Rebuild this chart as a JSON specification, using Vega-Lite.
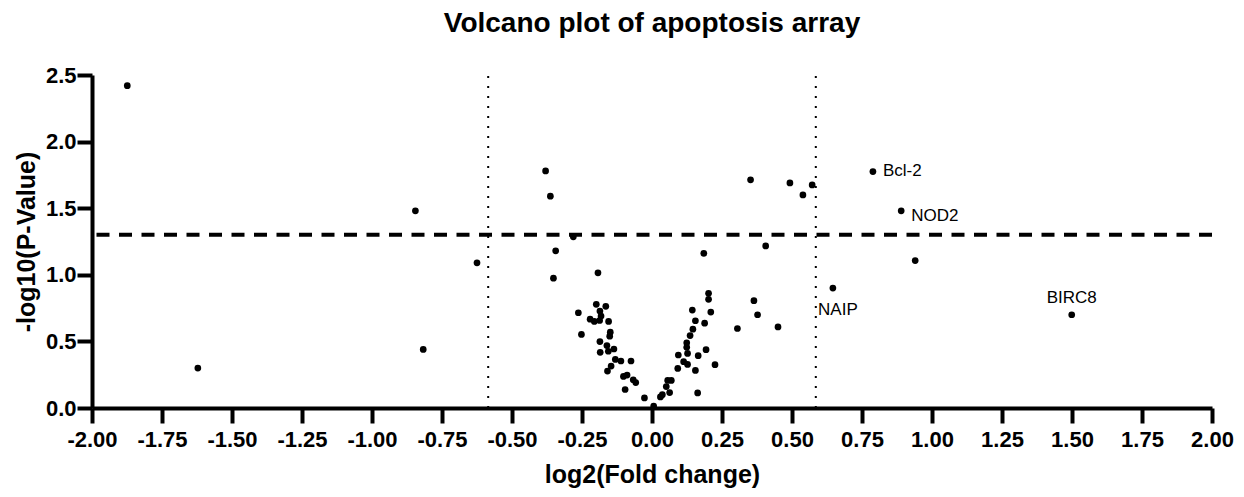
{
  "$schema": "https://vega.github.io/schema/vega-lite/v6.json",
  "width": 1120,
  "height": 333,
  "autosize": {"type": "none"},
  "padding": {"left": 92, "top": 75, "right": 32, "bottom": 89},
  "background": "white",
  "title": {
    "text": "Volcano plot of apoptosis array",
    "font": "Liberation Sans",
    "fontSize": 28,
    "fontWeight": "bold",
    "color": "black",
    "anchor": "middle",
    "offset": 26
  },
  "config": {
    "view": {"stroke": null},
    "axis": {
      "grid": false,
      "domainColor": "black",
      "domainWidth": 4,
      "tickColor": "black",
      "tickWidth": 4,
      "tickSize": 15,
      "labelFont": "Liberation Sans",
      "labelFontSize": 22,
      "labelFontWeight": "bold",
      "labelColor": "black",
      "labelOverlap": false,
      "labelFlush": false,
      "titleFont": "Liberation Sans",
      "titleFontSize": 25,
      "titleFontWeight": "bold",
      "titleColor": "black"
    }
  },
  "datasets": {
    "genes": [
      {"fc": -1.874, "p": 2.42},
      {"fc": -1.622, "p": 0.30},
      {"fc": -0.845, "p": 1.48},
      {"fc": -0.817, "p": 0.44},
      {"fc": -0.625, "p": 1.09},
      {"fc": -0.380, "p": 1.78},
      {"fc": -0.363, "p": 1.59},
      {"fc": -0.344, "p": 1.18},
      {"fc": -0.352, "p": 0.975},
      {"fc": -0.281, "p": 1.285},
      {"fc": -0.193, "p": 1.015},
      {"fc": -0.263, "p": 0.715},
      {"fc": -0.252, "p": 0.552},
      {"fc": -0.199, "p": 0.778},
      {"fc": -0.165, "p": 0.763},
      {"fc": -0.186, "p": 0.728},
      {"fc": -0.182, "p": 0.69},
      {"fc": -0.221, "p": 0.667},
      {"fc": -0.206, "p": 0.65},
      {"fc": -0.187, "p": 0.657},
      {"fc": -0.155, "p": 0.65},
      {"fc": -0.149, "p": 0.569},
      {"fc": -0.151, "p": 0.539},
      {"fc": -0.186, "p": 0.499},
      {"fc": -0.161, "p": 0.469},
      {"fc": -0.136, "p": 0.443},
      {"fc": -0.185, "p": 0.418},
      {"fc": -0.156, "p": 0.426},
      {"fc": -0.131, "p": 0.365},
      {"fc": -0.111, "p": 0.353},
      {"fc": -0.075, "p": 0.353},
      {"fc": -0.146, "p": 0.315},
      {"fc": -0.159, "p": 0.277},
      {"fc": -0.102, "p": 0.237},
      {"fc": -0.089, "p": 0.247},
      {"fc": -0.067, "p": 0.212},
      {"fc": -0.058, "p": 0.191},
      {"fc": -0.096, "p": 0.139},
      {"fc": -0.027, "p": 0.076},
      {"fc": 0.006, "p": 0.015},
      {"fc": 0.030, "p": 0.083},
      {"fc": 0.037, "p": 0.100},
      {"fc": 0.051, "p": 0.161},
      {"fc": 0.056, "p": 0.207},
      {"fc": 0.069, "p": 0.207},
      {"fc": 0.063, "p": 0.116},
      {"fc": 0.092, "p": 0.297},
      {"fc": 0.094, "p": 0.398},
      {"fc": 0.113, "p": 0.348},
      {"fc": 0.127, "p": 0.327},
      {"fc": 0.127, "p": 0.41},
      {"fc": 0.124, "p": 0.456},
      {"fc": 0.124, "p": 0.489},
      {"fc": 0.136, "p": 0.544},
      {"fc": 0.146, "p": 0.592},
      {"fc": 0.155, "p": 0.655},
      {"fc": 0.144, "p": 0.735},
      {"fc": 0.155, "p": 0.282},
      {"fc": 0.165, "p": 0.393},
      {"fc": 0.163, "p": 0.113},
      {"fc": 0.188, "p": 0.637},
      {"fc": 0.193, "p": 0.438},
      {"fc": 0.210, "p": 0.72},
      {"fc": 0.202, "p": 0.816},
      {"fc": 0.202, "p": 0.861},
      {"fc": 0.225, "p": 0.325},
      {"fc": 0.185, "p": 1.161},
      {"fc": 0.305, "p": 0.597},
      {"fc": 0.352, "p": 1.713},
      {"fc": 0.364, "p": 0.806},
      {"fc": 0.377, "p": 0.70},
      {"fc": 0.406, "p": 1.217},
      {"fc": 0.450, "p": 0.609},
      {"fc": 0.4925, "p": 1.69},
      {"fc": 0.539, "p": 1.60},
      {"fc": 0.572, "p": 1.675},
      {"fc": 0.646, "p": 0.90, "label": "NAIP"},
      {"fc": 0.789, "p": 1.775, "label": "Bcl-2"},
      {"fc": 0.890, "p": 1.48, "label": "NOD2"},
      {"fc": 0.940, "p": 1.107},
      {"fc": 1.499, "p": 0.70, "label": "BIRC8"}
    ],
    "hline": [{"p": 1.301}],
    "vlines": [{"fc": -0.585}, {"fc": 0.585}]
  },
  "layer": [
    {
      "data": {"name": "vlines"},
      "mark": {"type": "rule", "color": "black", "strokeWidth": 2, "strokeDash": [2, 8]},
      "encoding": {
        "x": {"field": "fc", "type": "quantitative"},
        "y": {"datum": 0, "type": "quantitative"},
        "y2": {"datum": 2.5}
      }
    },
    {
      "data": {"name": "hline"},
      "mark": {"type": "rule", "color": "black", "strokeWidth": 4, "strokeDash": [13, 9.5]},
      "encoding": {
        "y": {"field": "p", "type": "quantitative"}
      }
    },
    {
      "data": {"name": "genes"},
      "mark": {"type": "circle", "color": "black", "opacity": 1, "size": 45},
      "encoding": {
        "x": {
          "field": "fc", "type": "quantitative",
          "scale": {"domain": [-2, 2], "nice": false},
          "axis": {
            "title": "log2(Fold change)",
            "values": [-2, -1.75, -1.5, -1.25, -1, -0.75, -0.5, -0.25, 0, 0.25, 0.5, 0.75, 1, 1.25, 1.5, 1.75, 2],
            "labelExpr": "replace(format(datum.value, '.2f'), '\u2212', '-')",
            "labelPadding": 6,
            "titlePadding": 12
          }
        },
        "y": {
          "field": "p", "type": "quantitative",
          "scale": {"domain": [0, 2.5], "nice": false},
          "axis": {
            "title": "-log10(P-Value)",
            "values": [0, 0.5, 1, 1.5, 2, 2.5],
            "labelExpr": "format(datum.value, '.1f')",
            "labelPadding": 1,
            "titlePadding": 6
          }
        }
      }
    },
    {
      "data": {"name": "genes"},
      "transform": [{"filter": {"field": "label", "equal": "Bcl-2"}}],
      "mark": {"type": "text", "align": "left", "baseline": "alphabetic", "dx": 10, "dy": 4, "font": "Liberation Sans", "fontSize": 17, "color": "black"},
      "encoding": {
        "x": {"field": "fc", "type": "quantitative"},
        "y": {"field": "p", "type": "quantitative"},
        "text": {"field": "label"}
      }
    },
    {
      "data": {"name": "genes"},
      "transform": [{"filter": {"field": "label", "equal": "NOD2"}}],
      "mark": {"type": "text", "align": "left", "baseline": "alphabetic", "dx": 10, "dy": 10, "font": "Liberation Sans", "fontSize": 17, "color": "black"},
      "encoding": {
        "x": {"field": "fc", "type": "quantitative"},
        "y": {"field": "p", "type": "quantitative"},
        "text": {"field": "label"}
      }
    },
    {
      "data": {"name": "genes"},
      "transform": [{"filter": {"field": "label", "equal": "NAIP"}}],
      "mark": {"type": "text", "align": "center", "baseline": "alphabetic", "dx": 5, "dy": 27, "font": "Liberation Sans", "fontSize": 17, "color": "black"},
      "encoding": {
        "x": {"field": "fc", "type": "quantitative"},
        "y": {"field": "p", "type": "quantitative"},
        "text": {"field": "label"}
      }
    },
    {
      "data": {"name": "genes"},
      "transform": [{"filter": {"field": "label", "equal": "BIRC8"}}],
      "mark": {"type": "text", "align": "center", "baseline": "alphabetic", "dy": -12, "font": "Liberation Sans", "fontSize": 17, "color": "black"},
      "encoding": {
        "x": {"field": "fc", "type": "quantitative"},
        "y": {"field": "p", "type": "quantitative"},
        "text": {"field": "label"}
      }
    }
  ]
}
